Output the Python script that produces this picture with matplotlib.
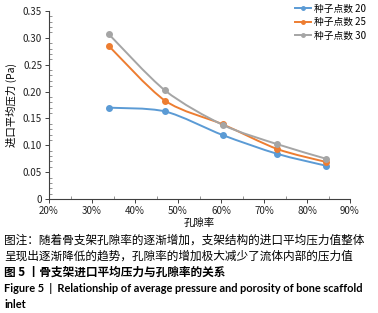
import matplotlib
matplotlib.use("Agg")
import matplotlib.pyplot as plt
from matplotlib.path import Path
from matplotlib.patches import PathPatch
from matplotlib.ticker import MultipleLocator, FuncFormatter

plt.rcParams['font.family'] = ['Noto Sans CJK SC', 'DejaVu Sans']

porosity = [33.9, 47.0, 60.4, 73.1, 84.4]
series_names = ["种子点数 20", "种子点数 25", "种子点数 30"]
seed20 = [0.170, 0.163, 0.119, 0.084, 0.062]
seed25 = [0.285, 0.183, 0.139, 0.093, 0.069]
seed30 = [0.307, 0.202, 0.138, 0.102, 0.075]
colors = ["#5B9BD5", "#ED7D31", "#A5A5A5"]
x_ticks = [20, 30, 40, 50, 60, 70, 80, 90]
y_ticks = [0, 0.05, 0.10, 0.15, 0.20, 0.25, 0.30, 0.35]

W, H = 378, 313
fig = plt.figure(figsize=(W / 100, H / 100), dpi=100)
ax = fig.add_axes([49 / W, 1 - 199 / H, (350 - 49) / W, (199 - 11) / H])


def smooth_path(xs, ys, t=1 / 7):
    verts = [(xs[0], ys[0])]
    codes = [Path.MOVETO]
    n = len(xs)
    for i in range(n - 1):
        x0, y0 = (xs[i - 1], ys[i - 1]) if i > 0 else (xs[i], ys[i])
        x1, y1 = xs[i], ys[i]
        x2, y2 = xs[i + 1], ys[i + 1]
        x3, y3 = (xs[i + 2], ys[i + 2]) if i + 2 < n else (x2, y2)
        c1 = (x1 + (x2 - x0) * t, y1 + (y2 - y0) * t)
        c2 = (x2 - (x3 - x1) * t, y2 - (y3 - y1) * t)
        verts += [c1, c2, (x2, y2)]
        codes += [Path.CURVE4] * 3
    return Path(verts, codes)


for name, vals, c in zip(series_names, [seed20, seed25, seed30], colors):
    ax.add_patch(PathPatch(smooth_path(porosity, vals), fill=False,
                           edgecolor=c, lw=1.4, zorder=2))
    ax.plot(porosity, vals, ls='none', marker='o', ms=4, color=c, zorder=3)
    ax.plot([], [], color=c, lw=1.4, marker='o', ms=2.5, label=name)

ax.set_xlim(20, 90)
ax.set_ylim(0, 0.35)
ax.set_xticks(x_ticks)
ax.set_yticks(y_ticks)
ax.xaxis.set_minor_locator(MultipleLocator(5))
ax.yaxis.set_minor_locator(MultipleLocator(0.01))
ax.xaxis.set_major_formatter(FuncFormatter(lambda v, p: f"{int(round(v))}%"))
ax.yaxis.set_major_formatter(FuncFormatter(lambda v, p: "0" if abs(v) < 1e-9 else f"{v:.2f}"))
for s in ['top', 'right']:
    ax.spines[s].set_visible(False)
for s in ['left', 'bottom']:
    ax.spines[s].set_color('#404040')
    ax.spines[s].set_linewidth(0.8)
ax.tick_params(which='major', direction='out', length=3, width=0.7, color='#404040',
               labelsize=7, pad=2, labelcolor='#222222')
ax.tick_params(which='minor', direction='in', length=2, width=0.6, color='#808080')
ax.set_xlabel("孔隙率", fontsize=7.5, labelpad=1)
ax.set_ylabel("进口平均压力 (Pa)", fontsize=7.5, labelpad=4)

leg = ax.legend(loc='upper right', bbox_to_anchor=(370 / W, 1 - 0 / H),
                bbox_transform=fig.transFigure, frameon=False, fontsize=7,
                handlelength=1.7, handletextpad=0.3, labelspacing=0.35,
                borderaxespad=0)

fig.text(4 / W, 1 - 240 / H, "图注：随着骨支架孔隙率的逐渐增加，支架结构的进口平均压力值整体",
         fontsize=8.4, va='center', ha='left')
fig.text(4 / W, 1 - 256 / H, "呈现出逐渐降低的趋势，孔隙率的增加极大减少了流体内部的压力值",
         fontsize=8.4, va='center', ha='left')
fig.text(4 / W, 1 - 272 / H, "图 5 丨骨支架进口平均压力与孔隙率的关系",
         fontsize=8.4, va='center', ha='left', fontweight='bold')
fig.text(4 / W, 1 - 289 / H, "Figure 5  |  Relationship of average pressure and porosity of bone scaffold",
         fontsize=7.9, va='center', ha='left', fontweight='bold', family='Lato')
fig.text(4 / W, 1 - 305 / H, "inlet",
         fontsize=7.9, va='center', ha='left', fontweight='bold', family='Lato')

fig.savefig("out.png", dpi=100)
